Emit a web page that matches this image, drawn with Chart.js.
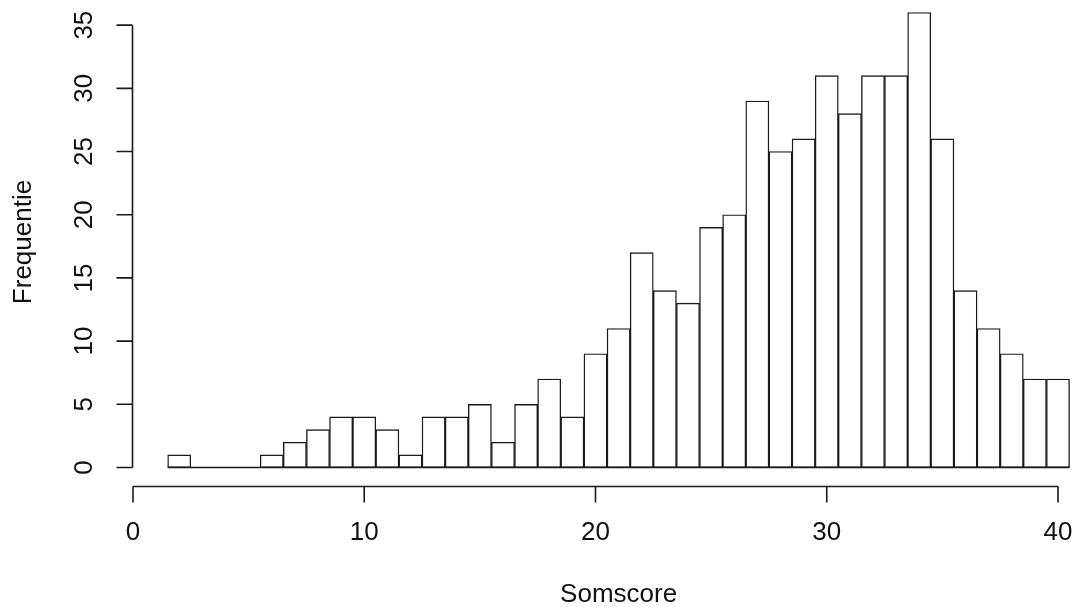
<!DOCTYPE html>
<html>
<head>
<meta charset="utf-8">
<title>Histogram Somscore</title>
<script src="https://cdn.jsdelivr.net/npm/chart.js@4.4.1/dist/chart.umd.min.js"></script>
<style>
  html, body { margin: 0; padding: 0; background: #ffffff; }
  #wrap { width: 1076px; height: 607px; position: relative; }
</style>
</head>
<body>
<div id="wrap"><canvas id="hist"></canvas></div>
<script>
// Bin centres (each bin is one unit wide) and their counts
const binCenters = [2, 3, 4, 5, 6, 7, 8, 9, 10, 11, 12, 13, 14, 15, 16, 17, 18, 19, 20,
                    21, 22, 23, 24, 25, 26, 27, 28, 29, 30, 31, 32, 33, 34, 35, 36, 37, 38, 39, 40];
const frequencies = [1, 0, 0, 0, 1, 2, 3, 4, 4, 3, 1, 4, 4, 5, 2, 5, 7, 4, 9,
                     11, 17, 14, 13, 19, 20, 29, 25, 26, 31, 28, 31, 31, 36, 26, 14, 11, 9, 7, 7];
const binWidth = 1;

// Axis tick values and titles
const xTicks = [0, 10, 20, 30, 40];
const yTicks = [0, 5, 10, 15, 20, 25, 30, 35];
const xTitle = 'Somscore';
const yTitle = 'Frequentie';

const FONT = '26px "Liberation Sans", Arial, Helvetica, sans-serif';
const INK = '#1a1a1a';

// Base-graphics style axes, drawn offset from the plotting region
const rAxes = {
  id: 'rAxes',
  afterDatasetsDraw(chart) {
    const ctx = chart.ctx;
    const xs = chart.scales.x, ys = chart.scales.y;
    const area = chart.chartArea;
    ctx.save();
    ctx.strokeStyle = INK;
    ctx.fillStyle = '#111';
    ctx.lineWidth = 1.6;
    ctx.font = FONT;

    // zero line under the bins (shows empty bins as flat segments)
    const y0 = ys.getPixelForValue(0);
    const loEdge = binCenters[0] - binWidth / 2;
    const hiEdge = binCenters[binCenters.length - 1] + binWidth / 2;
    ctx.beginPath();
    ctx.moveTo(xs.getPixelForValue(loEdge), y0);
    ctx.lineTo(xs.getPixelForValue(hiEdge), y0);
    ctx.stroke();

    // y axis
    const ax = Math.round(area.left) + 0.5;
    ctx.beginPath();
    ctx.moveTo(ax, ys.getPixelForValue(yTicks[0]));
    ctx.lineTo(ax, ys.getPixelForValue(yTicks[yTicks.length - 1]));
    yTicks.forEach(v => {
      const py = ys.getPixelForValue(v);
      ctx.moveTo(ax - 16, py);
      ctx.lineTo(ax, py);
    });
    ctx.stroke();
    ctx.textAlign = 'center';
    ctx.textBaseline = 'middle';
    yTicks.forEach(v => {
      const py = ys.getPixelForValue(v);
      ctx.save();
      ctx.translate(84, py);
      ctx.rotate(-Math.PI / 2);
      ctx.fillText(String(v), 0, 1);
      ctx.restore();
    });

    // x axis
    const ay = Math.round(area.bottom) + 0.5;
    ctx.beginPath();
    ctx.moveTo(xs.getPixelForValue(xTicks[0]), ay);
    ctx.lineTo(xs.getPixelForValue(xTicks[xTicks.length - 1]), ay);
    xTicks.forEach(v => {
      const px = xs.getPixelForValue(v);
      ctx.moveTo(px, ay);
      ctx.lineTo(px, ay + 16);
    });
    ctx.stroke();
    xTicks.forEach(v => {
      ctx.fillText(String(v), xs.getPixelForValue(v), 533);
    });

    // titles, centred on the binned range and on the count range
    ctx.fillText(xTitle, xs.getPixelForValue((loEdge + hiEdge) / 2), 595);
    ctx.save();
    ctx.translate(24, 242);
    ctx.rotate(-Math.PI / 2);
    ctx.fillText(yTitle, 0, 0);
    ctx.restore();

    ctx.restore();
  }
};

new Chart(document.getElementById('hist'), {
  type: 'bar',
  data: {
    datasets: [{
      data: binCenters.map((c, i) => ({ x: c, y: frequencies[i] })),
      backgroundColor: '#ffffff',
      borderColor: INK,
      borderWidth: 1.4,
      borderSkipped: false,
      categoryPercentage: 1,
      barPercentage: 1
    }]
  },
  options: {
    responsive: true,
    maintainAspectRatio: false,
    animation: false,
    events: [],
    layout: { padding: { left: 131.6, right: 4, top: 0, bottom: 121.3 } },
    plugins: { legend: { display: false }, tooltip: { enabled: false } },
    scales: {
      x: { type: 'linear', min: -0.06, max: 40.606, offset: false, display: false },
      y: { type: 'linear', min: -1.44, max: 36.99, display: false }
    }
  },
  plugins: [rAxes]
});
</script>
</body>
</html>
